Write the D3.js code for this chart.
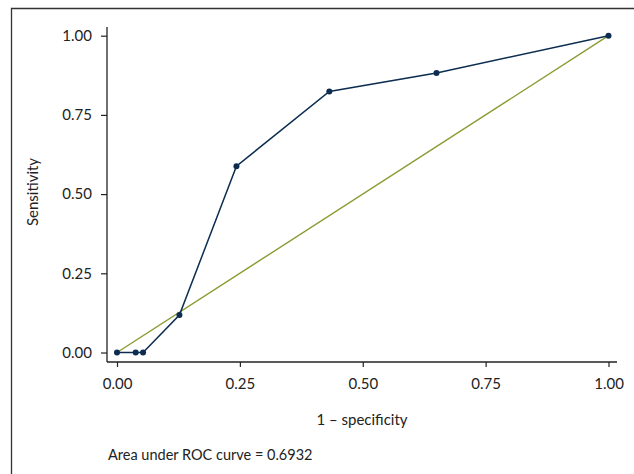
<!DOCTYPE html>
<html><head><meta charset="utf-8">
<script src="https://cdn.jsdelivr.net/npm/d3@7"></script>
<style>body{margin:0;background:#fff}svg{display:block}text{font-family:Lato,"Open Sans",sans-serif;fill:#222}</style>
</head><body>
<svg id="c" width="634" height="474"></svg>
<script>
const oneMinusSpec = [0, 0.038, 0.053, 0.127, 0.243, 0.432, 0.650, 1.0];
const sensitivity = [0, 0, 0, 0.118, 0.588, 0.824, 0.882, 1.0];
const tickValues = [0, 0.25, 0.5, 0.75, 1.0];
const xTitle = "1 \u2013 specificity";
const yTitle = "Sensitivity";
const note = "Area under ROC curve = 0.6932";

const svg = d3.select("#c");
const x = d3.scaleLinear().domain([0,1]).range([117,608.5]);
const y = d3.scaleLinear().domain([0,1]).range([352.5,35.7]);
const data = oneMinusSpec.map((v,i)=>({x:v,y:sensitivity[i]}));

// frame
svg.append("path").attr("d","M11.5,474 V8.5 H634").attr("fill","none").attr("stroke","#333").attr("stroke-width",1.3);

// axes
const fmt = d3.format(".2f");
const ya = svg.append("g").attr("transform","translate(107,0)")
  .call(d3.axisLeft(y).tickValues(tickValues).tickFormat(fmt).tickSize(6).tickPadding(9));
ya.select(".domain").attr("d","M0,27V362");
const xa = svg.append("g").attr("transform","translate(0,362)")
  .call(d3.axisBottom(x).tickValues(tickValues).tickFormat(fmt).tickSize(5).tickPadding(11));
xa.select(".domain").attr("d","M107,0H617");
svg.selectAll(".domain").attr("stroke","#222").attr("stroke-width",1.3);
svg.selectAll(".tick line").attr("stroke","#222").attr("stroke-width",1.2);
svg.selectAll(".tick text").attr("font-size",15).attr("fill","#222").style("font-family","Lato,'Open Sans',sans-serif");

// diagonal
svg.append("line").attr("x1",x(0)).attr("y1",y(0)).attr("x2",x(1)).attr("y2",y(1))
  .attr("stroke","#8a9c32").attr("stroke-width",1.4);

// curve
svg.append("path").datum(data).attr("fill","none").attr("stroke","#0c2d4f").attr("stroke-width",1.5)
  .attr("d",d3.line().x(d=>x(d.x)).y(d=>y(d.y)));
svg.selectAll("circle.pt").data(data).enter().append("circle").attr("class","pt")
  .attr("cx",d=>x(d.x)).attr("cy",d=>y(d.y)).attr("r",3).attr("fill","#0c2d4f");

// titles
svg.append("text").attr("x",362).attr("y",425).attr("text-anchor","middle").attr("font-size",15).text(xTitle);
svg.append("text").attr("transform","translate(38,192) rotate(-90)").attr("text-anchor","middle").attr("font-size",15).text(yTitle);
svg.append("text").attr("x",108).attr("y",460).attr("font-size",14.5).text(note);
</script>
</body></html>
